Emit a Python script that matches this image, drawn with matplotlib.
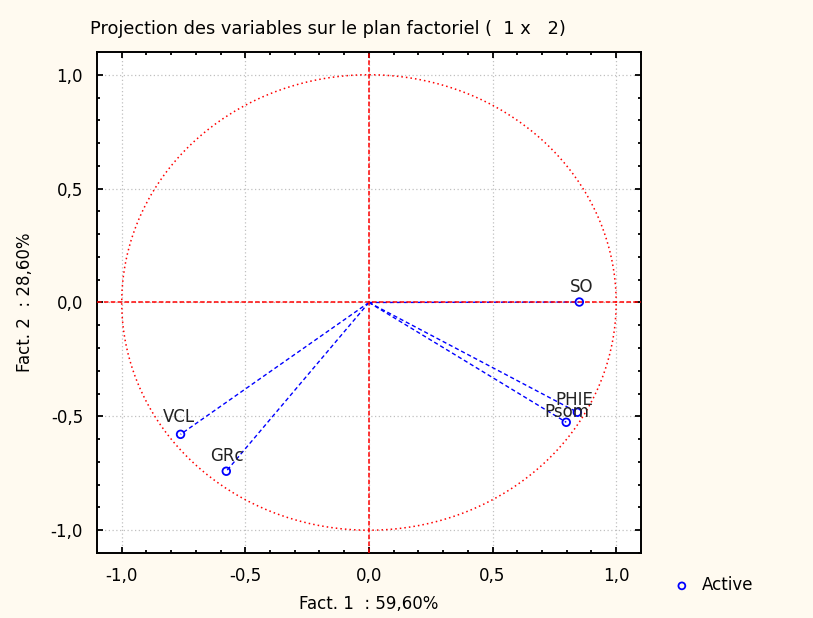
import numpy as np
import matplotlib
matplotlib.use("Agg")
import matplotlib.pyplot as plt
from matplotlib.ticker import MultipleLocator, FuncFormatter

plt.rcParams["font.family"] = ["DejaVu Sans"]

# variable coordinates on factors 1 and 2
names = ["SO", "PHIE", "Psom", "VCL", "GRc"]
fact1 = [0.851, 0.843, 0.798, -0.762, -0.577]
fact2 = [0.002, -0.482, -0.526, -0.579, -0.741]
label_dx = [-0.04, -0.09, -0.09, -0.07, -0.065]
label_dy = [0.045, 0.03, 0.025, 0.055, 0.045]

bg = "#fffaf0"
fs = 12
fig = plt.figure(figsize=(8.13, 6.18), dpi=100, facecolor=bg)
ax = fig.add_axes([0.1193, 0.1052, 0.669, 0.8107])
ax.set_facecolor("white")

# correlation circle
t = np.linspace(0, 2 * np.pi, 400)
ax.plot(np.cos(t), np.sin(t), color="red", lw=1.1, ls=(0, (1, 2)), zorder=2)

# vectors from origin
for x, y in zip(fact1, fact2):
    ax.plot([0, x], [0, y], color="blue", lw=1, ls=(0, (3, 2)), zorder=3)

ax.axhline(0, color="red", lw=1.1, ls=(0, (3, 1.5)), zorder=4)
ax.axvline(0, color="red", lw=1.1, ls=(0, (3, 1.5)), zorder=4)

ax.scatter(fact1, fact2, s=30, facecolors="none", edgecolors="blue",
           linewidths=1.3, zorder=5, label="Active")
for n, x, y, dx, dy in zip(names, fact1, fact2, label_dx, label_dy):
    ax.text(x + dx, y + dy, n, fontsize=fs, color="#222222", zorder=6)

ax.set_xlim(-1.1, 1.1)
ax.set_ylim(-1.1, 1.1)
ax.xaxis.set_major_locator(MultipleLocator(0.5))
ax.yaxis.set_major_locator(MultipleLocator(0.5))
ax.xaxis.set_minor_locator(MultipleLocator(0.1))
ax.yaxis.set_minor_locator(MultipleLocator(0.1))
fmt = FuncFormatter(lambda v, p: ("%.1f" % v).replace(".", ","))
ax.xaxis.set_major_formatter(fmt)
ax.yaxis.set_major_formatter(fmt)
ax.tick_params(which="both", direction="in", top=True, right=True,
               labelsize=fs, pad=10)
ax.tick_params(which="major", length=4, width=1.3)
ax.tick_params(which="minor", length=2, width=1.3)
ax.grid(True, which="major", color="#c0c0c0", ls=(0, (1, 2)), lw=0.9)
for s in ax.spines.values():
    s.set_linewidth(1.4)

ax.set_xlabel("Fact. 1  : 59,60%", fontsize=fs, labelpad=7)
ax.set_ylabel("Fact. 2  : 28,60%", fontsize=fs, labelpad=12)
fig.text(0.111, 0.945, "Projection des variables sur le plan factoriel (  1 x   2)",
         fontsize=12.8)

fig.legend(loc="center left", bbox_to_anchor=(0.81, 0.053), frameon=False,
           fontsize=fs, handlelength=1.0, handletextpad=0.7, markerscale=0.9)

fig.savefig("out.png", dpi=100, facecolor=bg)
